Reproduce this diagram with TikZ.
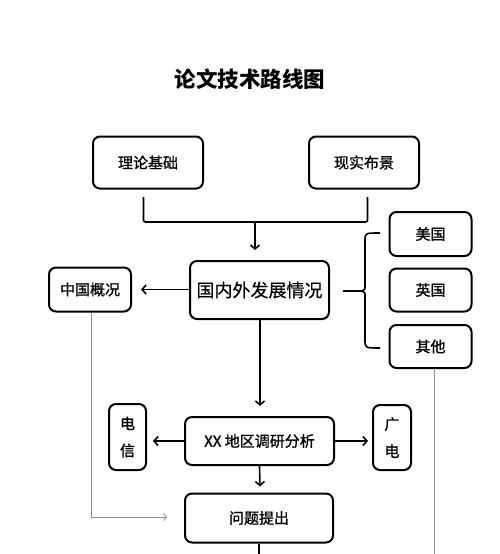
\documentclass[tikz,border=0pt]{standalone}
\usepackage{fontspec}
\setmainfont{Noto Sans CJK SC}
\newfontfamily\boxfont[FakeBold=1.2]{Noto Sans CJK SC}
\newfontfamily\midfont[FakeBold=0.4]{Noto Sans CJK SC}
\usetikzlibrary{arrows.meta,calc}
\begin{document}
\begin{tikzpicture}[x=1pt,y=-1pt,
  bx/.style={draw,line width=2pt,rounded corners=7pt,inner sep=0pt,align=center,font=\boxfont\fontsize{15}{27}\selectfont},
  conn/.style={line width=1.6pt},
  arr/.style={line width=1.6pt,-{Straight Barb[length=4pt,width=9pt,line width=1.6pt]}},
  garr/.style={draw=black!45,line width=0.8pt}]
\useasboundingbox (0,0) rectangle (500,554);
\fill[white] (0,0) rectangle (500,554);
\node[font=\fontsize{21.5}{24}\selectfont\bfseries] (title) at (250,79) {论文技术路线图};
\node[bx,minimum width=110pt,minimum height=52pt] (t1) at (148,162.5) {理论基础};
\node[bx,minimum width=110pt,minimum height=52pt] (t2) at (364,162.5) {现实布景};
\node[bx,minimum width=139pt,minimum height=58pt,font=\midfont\fontsize{18}{22}\selectfont] (gn) at (259.5,290) {国内外发展情况};
\node[bx,minimum width=82pt,minimum height=44pt] (zg) at (90,289.5) {中国概况};
\node[bx,minimum width=82pt,minimum height=44pt] (mg) at (430.5,234) {美国};
\node[bx,minimum width=82pt,minimum height=43pt] (yg) at (430.5,290) {英国};
\node[bx,minimum width=82pt,minimum height=43pt] (qt) at (430.5,346.5) {其他};
\node[bx,minimum width=149pt,minimum height=48pt] (xx) at (259.5,441) {XX 地区调研分析};
\node[bx,minimum width=37pt,minimum height=66pt] (dx) at (127.5,437) {电\\信};
\node[bx,minimum width=38pt,minimum height=65pt] (gd) at (392,437.5) {广\\电};
\node[bx,minimum width=148pt,minimum height=49pt] (wt) at (259,518) {问题提出};
% top bracket
\coordinate (b1) at (143.5,197);
\coordinate (b2) at (367.5,197);
\coordinate (bm) at (255,222);
\draw[conn,rounded corners=2pt] (b1) |- (bm) -| (b2);
\draw[arr] (bm) -- ($(gn.north)+(-4.5,-10)$);
% left arrow
\draw[arr] (gn.west |- zg.east) -- ($(zg.east)+(9,0)$);
% brace
\coordinate (bt) at (343,291);
\coordinate (btip) at (362,291);
\draw[conn] (bt) -- (btip);
\draw[conn] (380,233) .. controls (365,233) and (365,233) .. (365,241) -- (365,284)
  .. controls (365,290) .. (btip) .. controls (365,292) .. (365,298) -- (365,340)
  .. controls (365,348) and (365,348) .. (380,348);
% down arrows
\draw[arr] (260,320) -- ($(xx.north)+(0.5,-10)$);
\draw[arr] (xx.west) -- ($(dx.east)+(6,4)$);
\draw[arr] (xx.east) -- ($(gd.east)+(-44,3.5)$);
\draw[arr] (xx.south) -- ($(wt.north)+(1,-6)$);
\coordinate (wb) at (259,554);
\draw[conn] (wt.south) -- (wb);
% gray lines
\coordinate (g1) at (91,517);
\draw[garr,-{Straight Barb[length=3pt,width=7pt]}] (zg.south -| g1) -- (g1) -- (167,517);
\coordinate (g2) at (434,554);
\draw[garr] (qt.south -| g2) -- (g2);
\end{tikzpicture}
\end{document}
